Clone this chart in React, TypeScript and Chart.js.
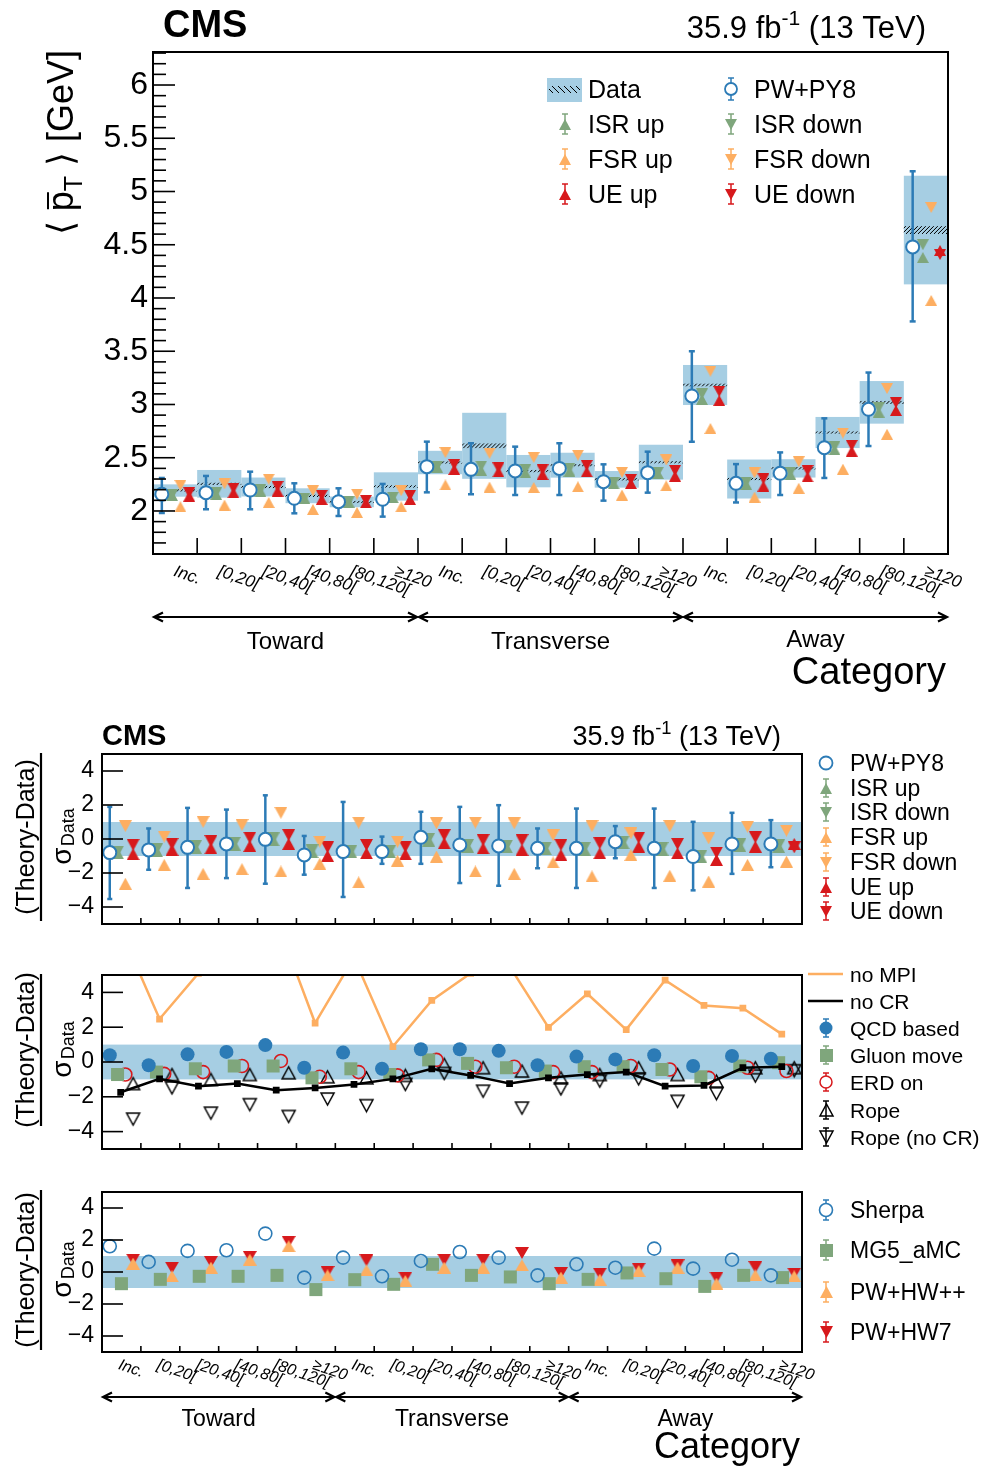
import React, { useEffect, useRef } from 'react';
import { Chart, registerables } from 'chart.js';

Chart.register(...registerables);

const FONT = '"Liberation Sans", Arial, Helvetica, sans-serif';
const BLUE = '#2c7bb6';
const LIGHT = '#a6cee3';
const GREEN = '#7fa67c';
const ORANGE = '#fdae61';
const RED = '#d7191c';

const binLabels = ['Inc.', '[0,20[', '[20,40[', '[40,80[', '[80,120[', '\u2265120'];
const regionLabels = ['Toward', 'Transverse', 'Away'];
const mainYTicks = [2, 2.5, 3, 3.5, 4, 4.5, 5, 5.5, 6];
const ratioYTicks = [-4, -2, 0, 2, 4];

// ---------- top panel: <pT> per category ----------
const dataMean = [2.192, 2.255, 2.225, 2.143, 2.085, 2.23, 2.455, 2.612, 2.374, 2.43, 2.297, 2.458, 3.183, 2.3, 2.4, 2.737, 3.02, 4.638];
const dataSyst = [0.058, 0.13, 0.089, 0.07, 0.05, 0.133, 0.11, 0.31, 0.152, 0.117, 0.078, 0.164, 0.188, 0.183, 0.086, 0.146, 0.2, 0.51];
const dataStat = [0.012, 0.012, 0.012, 0.012, 0.012, 0.012, 0.012, 0.024, 0.012, 0.012, 0.012, 0.012, 0.015, 0.012, 0.012, 0.012, 0.015, 0.037];
const pwpy8 = [2.157, 2.172, 2.197, 2.119, 2.087, 2.11, 2.416, 2.391, 2.376, 2.4, 2.275, 2.36, 3.08, 2.26, 2.354, 2.594, 2.955, 4.48];
const pwpy8Hi = [2.31, 2.329, 2.369, 2.26, 2.213, 2.254, 2.651, 2.636, 2.604, 2.636, 2.438, 2.557, 3.5, 2.44, 2.55, 2.87, 3.3, 5.19];
const pwpy8Lo = [1.981, 2.016, 2.016, 1.978, 1.953, 1.947, 2.175, 2.157, 2.15, 2.15, 2.097, 2.172, 2.65, 2.08, 2.15, 2.31, 2.61, 3.78];
const isrUp = [2.146, 2.155, 2.186, 2.117, 2.082, 2.124, 2.412, 2.38, 2.358, 2.374, 2.255, 2.352, 3.047, 2.249, 2.343, 2.577, 2.928, 4.38];
const isrDown = [2.152, 2.171, 2.199, 2.12, 2.088, 2.13, 2.418, 2.421, 2.39, 2.402, 2.264, 2.364, 3.1, 2.27, 2.364, 2.606, 2.969, 4.5];
const fsrUp = [2.04, 2.055, 2.08, 2.014, 1.986, 2.039, 2.244, 2.224, 2.221, 2.227, 2.15, 2.236, 2.775, 2.13, 2.213, 2.393, 2.72, 3.977];
const fsrDown = [2.241, 2.255, 2.299, 2.19, 2.158, 2.19, 2.549, 2.542, 2.502, 2.524, 2.362, 2.479, 3.313, 2.358, 2.463, 2.732, 3.15, 4.85];
const ueUp = [2.139, 2.171, 2.186, 2.108, 2.077, 2.108, 2.39, 2.368, 2.343, 2.368, 2.258, 2.327, 3.038, 2.233, 2.32, 2.562, 2.944, 4.446];
const ueDown = [2.171, 2.214, 2.23, 2.146, 2.099, 2.146, 2.437, 2.405, 2.387, 2.427, 2.296, 2.38, 3.122, 2.302, 2.38, 2.615, 3.016, 4.408];

// ---------- ratio panel 1 ----------
const rPw = [-0.8, -0.64, -0.49, -0.29, -0.02, -0.94, -0.74, -0.74, 0.1, -0.35, -0.41, -0.55, -0.55, -0.16, -0.55, -1.03, -0.29, -0.29];
const rPwHi = [1.89, 0.62, 1.83, 1.73, 2.57, 0.18, 2.18, 0.14, 1.6, 1.89, 1.99, 0.62, 1.79, 0.76, 1.79, 1.01, 1.54, 1.11];
const rPwLo = [-3.53, -1.81, -2.88, -2.3, -2.63, -2.1, -3.41, -1.46, -1.46, -2.59, -2.75, -1.72, -2.88, -1.13, -2.88, -3.02, -2.05, -1.66];
const rIsrUp = [-0.84, -0.71, -0.52, -0.33, -0.07, -0.77, -0.79, -0.79, -0.09, -0.45, -0.49, -0.6, -0.63, -0.25, -0.63, -1.08, -0.41, -0.47];
const rIsrDown = [-0.74, -0.61, -0.42, -0.23, 0.03, -0.67, -0.69, -0.69, 0.01, -0.35, -0.39, -0.5, -0.53, -0.15, -0.53, -0.98, -0.31, -0.37];
const rFsrUp = [-2.63, -1.52, -2.05, -1.77, -1.91, -1.46, -2.55, -1.27, -1.03, -1.91, -2.05, -1.38, -2.2, -0.94, -2.16, -2.5, -1.52, -1.33];
const rFsrDown = [0.76, 0.14, 1.0, 0.82, 1.54, -0.16, 0.96, -0.16, 0.92, 0.96, 0.92, 0.23, 0.76, 0.33, 0.76, 0.04, 0.72, 0.49];
const rUeUp = [-0.89, -0.64, -0.55, -0.41, -0.29, -0.99, -0.84, -0.9, -0.25, -0.55, -0.64, -0.94, -0.84, -0.45, -0.84, -1.23, -0.45, -0.29];
const rUeDown = [-0.34, -0.29, -0.12, 0.08, 0.23, -0.49, -0.35, -0.45, 0.23, -0.06, -0.06, -0.35, -0.25, 0.08, -0.29, -0.8, 0.1, -0.49];

// ---------- ratio panel 2 ----------
const noMPI = [7.6, 2.47, 5.1, 7.5, 8.2, 2.24, 6.0, 0.89, 3.54, 5.1, 5.5, 1.99, 3.92, 1.86, 4.7, 3.25, 3.09, 1.6];
const noCR = [-1.74, -0.97, -1.39, -1.24, -1.62, -1.49, -1.29, -0.97, -0.39, -0.77, -1.24, -0.91, -0.72, -0.58, -1.39, -1.35, -0.33, -0.27];
const qcdBased = [0.39, -0.19, 0.44, 0.58, 0.97, -0.33, 0.54, -0.39, 0.73, 0.73, 0.64, -0.19, 0.31, 0.15, 0.39, -0.23, 0.35, 0.19];
const gluonMove = [-0.72, -0.58, -0.39, -0.23, -0.23, -0.91, -0.39, -0.72, 0.12, -0.08, -0.33, -0.52, -0.27, -0.27, -0.43, -0.85, -0.23, -0.04];
const erdOn = [-0.72, -0.68, -0.58, -0.23, 0.06, -0.85, -0.58, -0.77, 0.12, -0.27, -0.27, -0.58, -0.58, -0.23, -0.43, -0.91, -0.33, -0.52];
const rope = [-1.24, -0.72, -1.0, -0.72, -0.62, -0.85, -0.91, -0.77, -0.14, -0.33, -0.52, -0.91, -0.72, -0.33, -0.72, -1.1, -0.33, -0.33];
const ropeNoCR = [-3.28, -1.49, -2.94, -2.45, -3.13, -2.13, -2.51, -1.29, -0.66, -1.68, -2.65, -1.55, -1.1, -0.97, -2.26, -1.82, -0.81, -0.5];

// ---------- ratio panel 3 ----------
const sherpa = [1.61, 0.63, 1.32, 1.36, 2.4, -0.35, 0.9, -0.27, 0.69, 1.25, 0.9, -0.21, 0.48, 0.27, 1.46, 0.21, 0.77, -0.21];
const mg5amc = [-0.73, -0.46, -0.27, -0.27, -0.21, -1.1, -0.48, -0.77, 0.48, -0.21, -0.31, -0.73, -0.46, -0.06, -0.42, -0.9, -0.21, -0.35];
const pwHwpp = [0.52, -0.27, 0.27, 0.77, 1.61, -0.21, 0.1, -0.56, 0.27, 0.27, 0.42, -0.35, -0.48, 0.06, 0.27, -0.73, -0.21, -0.27];
const pwHw7 = [0.77, 0.27, 0.63, 0.94, 1.88, 0.0, 0.73, -0.35, 0.77, 0.77, 1.19, -0.06, -0.1, 0.21, 0.42, -0.35, 0.31, -0.1];

const N = 18;
const pts = (vals: number[], off: number) => vals.map((v, i) => ({ x: i + off, y: v }));

function makeTri(up: boolean, color: string, w: number, h: number, open = false, lw = 1.5) {
  const pad = open ? 2 : 0;
  const c = document.createElement('canvas');
  c.width = w + 2 * pad;
  c.height = h + 2 * pad;
  const g = c.getContext('2d') as CanvasRenderingContext2D;
  g.beginPath();
  if (up) {
    g.moveTo(pad, pad + h); g.lineTo(pad + w, pad + h); g.lineTo(pad + w / 2, pad);
  } else {
    g.moveTo(pad, pad); g.lineTo(pad + w, pad); g.lineTo(pad + w / 2, pad + h);
  }
  g.closePath();
  if (open) { g.lineWidth = lw; g.strokeStyle = color; g.stroke(); }
  else { g.fillStyle = color; g.fill(); }
  return c;
}

function setFont(ctx: CanvasRenderingContext2D, size: number, weight = '', style = '') {
  ctx.font = `${style} ${weight} ${size}px ${FONT}`.replace(/\s+/g, ' ').trim();
}
function line(ctx: CanvasRenderingContext2D, x0: number, y0: number, x1: number, y1: number) {
  ctx.beginPath(); ctx.moveTo(x0, y0); ctx.lineTo(x1, y1); ctx.stroke();
}
function errBar(ctx: CanvasRenderingContext2D, x: number, yHi: number, yLo: number, color: string, lw: number, cap: number) {
  ctx.strokeStyle = color; ctx.lineWidth = lw;
  line(ctx, x, yHi, x, yLo);
  line(ctx, x - cap / 2, yHi, x + cap / 2, yHi);
  line(ctx, x - cap / 2, yLo, x + cap / 2, yLo);
}
function hatch(ctx: CanvasRenderingContext2D, x0: number, x1: number, yT: number, yB: number, spacing = 4, back = false) {
  ctx.save();
  ctx.beginPath(); ctx.rect(x0, yT, x1 - x0, yB - yT); ctx.clip();
  ctx.strokeStyle = '#000'; ctx.lineWidth = 1;
  const h = yB - yT;
  ctx.beginPath();
  for (let x = x0 - h - 2; x < x1 + h + 2; x += spacing) {
    if (back) { ctx.moveTo(x, yT); ctx.lineTo(x + h, yB); }
    else { ctx.moveTo(x, yB); ctx.lineTo(x + h, yT); }
  }
  ctx.stroke();
  ctx.restore();
}
function arrowHead(ctx: CanvasRenderingContext2D, x: number, y: number, dir: number) {
  ctx.beginPath();
  ctx.moveTo(x - dir * 9, y - 4.5); ctx.lineTo(x, y); ctx.lineTo(x - dir * 9, y + 4.5);
  ctx.stroke();
}
function dArrow(ctx: CanvasRenderingContext2D, x0: number, x1: number, y: number) {
  ctx.strokeStyle = '#000'; ctx.lineWidth = 2.2;
  line(ctx, x0 + 1, y, x1 - 1, y);
  arrowHead(ctx, x0 + 1, y, -1);
  arrowHead(ctx, x1 - 1, y, 1);
}
function lumi(ctx: CanvasRenderingContext2D, xR: number, yB: number, size: number) {
  const a = '35.9 fb', s = '-1', b = ' (13 TeV)';
  setFont(ctx, size); const wa = ctx.measureText(a).width; const wb = ctx.measureText(b).width;
  setFont(ctx, size * 0.68); const ws = ctx.measureText(s).width;
  let x = xR - wa - ws - wb;
  ctx.fillStyle = '#000'; ctx.textAlign = 'left'; ctx.textBaseline = 'alphabetic';
  setFont(ctx, size); ctx.fillText(a, x, yB); x += wa;
  setFont(ctx, size * 0.68); ctx.fillText(s, x, yB - size * 0.42); x += ws;
  setFont(ctx, size); ctx.fillText(b, x, yB);
}
function xBinLabels(ctx: CanvasRenderingContext2D, xs: any, y: number, size: number, dx: number) {
  ctx.fillStyle = '#000';
  for (let i = 0; i < N; i++) {
    const px = xs.getPixelForValue(i + 0.5) + dx;
    ctx.save();
    ctx.translate(px, y);
    ctx.rotate(0.33);
    setFont(ctx, size, '', 'italic');
    ctx.textAlign = 'left'; ctx.textBaseline = 'top';
    ctx.fillText(binLabels[i % 6], 0, 0);
    ctx.restore();
  }
}
function regions(ctx: CanvasRenderingContext2D, xs: any, yArrow: number, yText: number[], size: number, catX: number, catY: number, catSize: number) {
  for (let r = 0; r < 3; r++) {
    const x0 = xs.getPixelForValue(r * 6), x1 = xs.getPixelForValue(r * 6 + 6);
    dArrow(ctx, x0, x1, yArrow);
    setFont(ctx, size); ctx.fillStyle = '#000'; ctx.textAlign = 'center'; ctx.textBaseline = 'alphabetic';
    ctx.fillText(regionLabels[r], (x0 + x1) / 2, yText[r]);
  }
  setFont(ctx, catSize); ctx.textAlign = 'right';
  ctx.fillText('Category', catX, catY);
}
function ratioYTitle(ctx: CanvasRenderingContext2D, cy: number, half: number) {
  ctx.fillStyle = '#000';
  ctx.save(); ctx.translate(34, cy); ctx.rotate(-Math.PI / 2);
  setFont(ctx, 25); ctx.textAlign = 'center'; ctx.textBaseline = 'alphabetic';
  ctx.fillText('(Theory-Data)', 0, 0);
  ctx.restore();
  ctx.strokeStyle = '#000'; ctx.lineWidth = 2.2;
  line(ctx, 41, cy - half, 41, cy + half);
  ctx.save(); ctx.translate(63, cy); ctx.rotate(-Math.PI / 2);
  setFont(ctx, 28); const ws = ctx.measureText('\u03c3').width;
  setFont(ctx, 18); const wd = ctx.measureText('Data').width;
  const st = -(ws + wd) / 2;
  ctx.textAlign = 'left';
  setFont(ctx, 28); ctx.fillText('\u03c3', st, 0);
  setFont(ctx, 18); ctx.fillText('Data', st + ws + 1, 6);
  ctx.restore();
}
function drawImg(ctx: CanvasRenderingContext2D, img: HTMLCanvasElement, x: number, y: number) {
  ctx.drawImage(img, Math.round(x - img.width / 2), Math.round(y - img.height / 2));
}
function circle(ctx: CanvasRenderingContext2D, x: number, y: number, r: number, stroke: string | null, fill: string | null, lw = 2) {
  ctx.beginPath(); ctx.arc(x, y, r, 0, Math.PI * 2);
  if (fill) { ctx.fillStyle = fill; ctx.fill(); }
  if (stroke) { ctx.strokeStyle = stroke; ctx.lineWidth = lw; ctx.stroke(); }
}
function legCaps(ctx: CanvasRenderingContext2D, x: number, y: number, color: string, half = 10) {
  ctx.strokeStyle = color; ctx.lineWidth = 1.5;
  line(ctx, x, y - half, x, y + half);
  line(ctx, x - 3, y - half, x + 3, y - half);
  line(ctx, x - 3, y + half, x + 3, y + half);
}
function legText(ctx: CanvasRenderingContext2D, s: string, x: number, y: number, size: number) {
  setFont(ctx, size); ctx.fillStyle = '#000'; ctx.textAlign = 'left'; ctx.textBaseline = 'alphabetic';
  ctx.fillText(s, x, y + size * 0.36);
}

export default function App() {
  const c1 = useRef<HTMLCanvasElement>(null);
  const c2 = useRef<HTMLCanvasElement>(null);
  const c3 = useRef<HTMLCanvasElement>(null);
  const c4 = useRef<HTMLCanvasElement>(null);

  useEffect(() => {
    const tU = (c: string) => makeTri(true, c, 12, 11);
    const tD = (c: string) => makeTri(false, c, 12, 11);
    const rU = (c: string) => makeTri(true, c, 13, 12);
    const rD = (c: string) => makeTri(false, c, 13, 12);
    const imgs = {
      gU: tU(GREEN), gD: tD(GREEN), oU: tU(ORANGE), oD: tD(ORANGE), rU: tU(RED), rD: tD(RED),
      gU2: rU(GREEN), gD2: rD(GREEN), oU2: rU(ORANGE), oD2: rD(ORANGE), rU2: rU(RED), rD2: rD(RED),
      kU: makeTri(true, '#000', 13, 12, true, 1.5), kD: makeTri(false, '#000', 13, 12, true, 1.5),
      oU3: makeTri(true, ORANGE, 14, 12), rD3: makeTri(false, RED, 14, 12),
      lgU: makeTri(true, GREEN, 12, 11), lgD: makeTri(false, GREEN, 12, 11),
      loU: makeTri(true, ORANGE, 12, 11), loD: makeTri(false, ORANGE, 12, 11),
      lrU: makeTri(true, RED, 12, 11), lrD: makeTri(false, RED, 12, 11),
    };

    const scat = (label: string, vals: number[], off: number, style: any, extra: any = {}) => ({
      label, data: pts(vals, off), pointStyle: style, pointRadius: 6, showLine: false, ...extra,
    });
    const baseOpts = (pad: any, ymin: number, ymax: number) => ({
      animation: false,
      responsive: false,
      maintainAspectRatio: false,
      events: [],
      layout: { padding: pad },
      scales: {
        x: { type: 'linear', min: 0, max: N, display: false },
        y: { type: 'linear', min: ymin, max: ymax, display: false },
      },
      plugins: { legend: { display: false }, tooltip: { enabled: false } },
    });

    // ---------------- main panel ----------------
    const mainPlugin = {
      id: 'mainDeco',
      beforeDatasetsDraw(chart: any) {
        const { ctx, scales: { x, y } } = chart;
        ctx.save();
        for (let i = 0; i < N; i++) {
          const x0 = x.getPixelForValue(i), x1 = x.getPixelForValue(i + 1);
          const yt = y.getPixelForValue(dataMean[i] + dataSyst[i]);
          const yb = y.getPixelForValue(dataMean[i] - dataSyst[i]);
          ctx.fillStyle = LIGHT; ctx.fillRect(x0, yt, x1 - x0, yb - yt);
        }
        for (let i = 0; i < N; i++) {
          const x0 = x.getPixelForValue(i), x1 = x.getPixelForValue(i + 1);
          hatch(ctx, x0, x1, y.getPixelForValue(dataMean[i] + dataStat[i]), y.getPixelForValue(dataMean[i] - dataStat[i]), 4);
        }
        for (let i = 0; i < N; i++) {
          errBar(ctx, x.getPixelForValue(i + 0.2), y.getPixelForValue(pwpy8Hi[i]), y.getPixelForValue(pwpy8Lo[i]), BLUE, 2.5, 6);
        }
        ctx.restore();
      },
      afterDraw(chart: any) {
        const { ctx, chartArea: a, scales: { x, y } } = chart;
        ctx.save();
        ctx.strokeStyle = '#000'; ctx.lineWidth = 2;
        ctx.strokeRect(a.left, a.top, a.right - a.left, a.bottom - a.top);
        ctx.lineWidth = 1.6;
        for (let k = 17; k <= 63; k++) {
          const py = y.getPixelForValue(k / 10);
          line(ctx, a.left, py, a.left + (k % 5 === 0 ? 22 : 13), py);
        }
        for (let i = 0; i <= N; i++) {
          const px = x.getPixelForValue(i);
          line(ctx, px, a.bottom, px, a.bottom - 16);
        }
        setFont(ctx, 32); ctx.fillStyle = '#000'; ctx.textAlign = 'right'; ctx.textBaseline = 'middle';
        mainYTicks.forEach((v) => ctx.fillText(String(v), 148, y.getPixelForValue(v)));
        xBinLabels(ctx, x, 563, 17, 2);
        regions(ctx, x, 617, [649, 649, 647], 24, 946, 684, 38);
        // CMS + lumi
        setFont(ctx, 38, 'bold'); ctx.textAlign = 'left'; ctx.textBaseline = 'alphabetic'; ctx.fillStyle = '#000';
        ctx.fillText('CMS', 163, 37);
        lumi(ctx, 926, 38, 31);
        // y title
        ctx.save();
        ctx.translate(73, 50); ctx.rotate(-Math.PI / 2);
        const parts: [string, number, number][] = [['\u27e8 ', 36, 0], ['p', 36, 0], ['T', 25, 9], [' \u27e9 [GeV]', 36, 0]];
        let tw = 0;
        parts.forEach(([s, sz]) => { setFont(ctx, sz); tw += ctx.measureText(s).width; });
        let px = -tw;
        ctx.textAlign = 'left'; ctx.textBaseline = 'alphabetic'; ctx.fillStyle = '#000';
        parts.forEach(([s, sz, dy]) => {
          setFont(ctx, sz);
          const w = ctx.measureText(s).width;
          ctx.fillText(s, px, dy);
          if (s === 'p') { ctx.lineWidth = 2; ctx.strokeStyle = '#000'; line(ctx, px + 2, -25, px + w - 1, -25); }
          px += w;
        });
        ctx.restore();
        // legend
        ctx.fillStyle = LIGHT; ctx.fillRect(547, 78, 35, 24);
        hatch(ctx, 549, 580, 86, 93, 6, true);
        legText(ctx, 'Data', 588, 89, 25);
        const rows = [124, 159, 194];
        const l1 = [[imgs.lgU, GREEN, 'ISR up'], [imgs.loU, ORANGE, 'FSR up'], [imgs.lrU, RED, 'UE up']] as any[];
        const l2 = [[imgs.lgD, GREEN, 'ISR down'], [imgs.loD, ORANGE, 'FSR down'], [imgs.lrD, RED, 'UE down']] as any[];
        l1.forEach(([im, col, t], k) => { legCaps(ctx, 565, rows[k], col); drawImg(ctx, im, 565, rows[k]); legText(ctx, t, 588, rows[k], 25); });
        legCaps(ctx, 731, 89, BLUE, 11);
        circle(ctx, 731, 89, 6, BLUE, '#fff', 1.8);
        legText(ctx, 'PW+PY8', 754, 89, 25);
        l2.forEach(([im, col, t], k) => { legCaps(ctx, 731, rows[k], col); drawImg(ctx, im, 731, rows[k]); legText(ctx, t, 754, rows[k], 25); });
        ctx.restore();
      },
    };

    const ch1 = new Chart(c1.current as HTMLCanvasElement, {
      type: 'scatter',
      data: {
        datasets: [
          scat('PW+PY8', pwpy8, 0.2, 'circle', { pointRadius: 6.5, borderColor: BLUE, backgroundColor: '#fff', borderWidth: 2 }),
          scat('ISR up', isrUp, 0.43, imgs.gU),
          scat('ISR down', isrDown, 0.43, imgs.gD),
          scat('FSR up', fsrUp, 0.62, imgs.oU),
          scat('FSR down', fsrDown, 0.62, imgs.oD),
          scat('UE up', ueUp, 0.82, imgs.rU),
          scat('UE down', ueDown, 0.82, imgs.rD),
        ],
      },
      options: baseOpts({ left: 153, right: 33, top: 52, bottom: 146 }, 1.596, 6.31) as any,
      plugins: [mainPlugin],
    });

    // ---------------- ratio panels common ----------------
    const ratioDeco = (id: string, extraBefore: ((chart: any) => void) | null, extraAfter: (chart: any) => void, titleShift: number, half: number) => ({
      id,
      beforeDatasetsDraw(chart: any) {
        const { ctx, chartArea: a, scales: { y } } = chart;
        ctx.save();
        ctx.fillStyle = LIGHT;
        const y1 = y.getPixelForValue(1), y0 = y.getPixelForValue(-1);
        ctx.fillRect(a.left, y1, a.right - a.left, y0 - y1);
        if (extraBefore) extraBefore(chart);
        ctx.restore();
      },
      afterDraw(chart: any) {
        const { ctx, chartArea: a, scales: { x, y } } = chart;
        ctx.save();
        ctx.strokeStyle = '#000'; ctx.lineWidth = 2;
        ctx.strokeRect(a.left, a.top, a.right - a.left, a.bottom - a.top);
        ctx.lineWidth = 1.6;
        ratioYTicks.forEach((v) => { const py = y.getPixelForValue(v); line(ctx, a.left, py, a.left + 21, py); });
        for (let i = 0; i <= N; i++) { const px = x.getPixelForValue(i); line(ctx, px, a.bottom, px, a.bottom - 6); }
        setFont(ctx, 23); ctx.fillStyle = '#000'; ctx.textAlign = 'right'; ctx.textBaseline = 'middle';
        ratioYTicks.forEach((v) => ctx.fillText(v < 0 ? '\u2212' + Math.abs(v) : String(v), 94, y.getPixelForValue(v)));
        ratioYTitle(ctx, (a.top + a.bottom) / 2 + titleShift, half);
        extraAfter(chart);
        ctx.restore();
      },
    });

    // ---------------- ratio 1 ----------------
    const r1 = ratioDeco('r1', (chart) => {
      const { ctx, scales: { x, y } } = chart;
      for (let i = 0; i < N; i++) errBar(ctx, x.getPixelForValue(i + 0.2), y.getPixelForValue(rPwHi[i]), y.getPixelForValue(rPwLo[i]), BLUE, 2.5, 5);
    }, (chart) => {
      const { ctx } = chart;
      setFont(ctx, 29, 'bold'); ctx.fillStyle = '#000'; ctx.textAlign = 'left'; ctx.textBaseline = 'alphabetic';
      ctx.fillText('CMS', 102, 45);
      lumi(ctx, 781, 45, 27);
      const rows = [63, 88, 112, 137, 162, 187, 211];
      circle(ctx, 826, rows[0], 6.5, BLUE, '#fff', 1.8);
      const items = [[imgs.lgU, GREEN], [imgs.lgD, GREEN], [imgs.loU, ORANGE], [imgs.loD, ORANGE], [imgs.lrU, RED], [imgs.lrD, RED]] as any[];
      items.forEach(([im, col], k) => { legCaps(ctx, 826, rows[k + 1], col, 9); drawImg(ctx, im, 826, rows[k + 1]); });
      ['PW+PY8', 'ISR up', 'ISR down', 'FSR up', 'FSR down', 'UE up', 'UE down'].forEach((t, k) => legText(ctx, t, 850, rows[k], 23));
    }, -2, 84);

    const ch2 = new Chart(c2.current as HTMLCanvasElement, {
      type: 'scatter',
      data: {
        datasets: [
          scat('PW+PY8', rPw, 0.2, 'circle', { pointRadius: 6.5, borderColor: BLUE, backgroundColor: '#fff', borderWidth: 2 }),
          scat('ISR up', rIsrUp, 0.4, imgs.gU2),
          scat('ISR down', rIsrDown, 0.4, imgs.gD2),
          scat('FSR up', rFsrUp, 0.6, imgs.oU2),
          scat('FSR down', rFsrDown, 0.6, imgs.oD2),
          scat('UE up', rUeUp, 0.8, imgs.rU2),
          scat('UE down', rUeDown, 0.8, imgs.rD2),
        ],
      },
      options: baseOpts({ left: 102, right: 179, top: 54, bottom: 16 }, -5, 5) as any,
      plugins: [r1],
    });

    // ---------------- ratio 2 ----------------
    const r2 = ratioDeco('r2', null, (chart) => {
      const { ctx } = chart;
      const rows = [34, 61, 88, 115, 142, 170, 197];
      ctx.lineWidth = 2.5;
      ctx.strokeStyle = ORANGE; line(ctx, 808, rows[0], 843, rows[0]);
      ctx.strokeStyle = '#000'; line(ctx, 808, rows[1], 843, rows[1]);
      legCaps(ctx, 826, rows[2], BLUE, 9); circle(ctx, 826, rows[2], 6.5, null, BLUE);
      legCaps(ctx, 826, rows[3], GREEN, 9); ctx.fillStyle = GREEN; ctx.fillRect(820, rows[3] - 6, 13, 13);
      legCaps(ctx, 826, rows[4], RED, 9); circle(ctx, 826, rows[4], 6, RED, '#fff', 1.5);
      legCaps(ctx, 826, rows[5], '#000', 9); drawImg(ctx, imgs.kU, 826, rows[5]);
      legCaps(ctx, 826, rows[6], '#000', 9); drawImg(ctx, imgs.kD, 826, rows[6]);
      ['no MPI', 'no CR', 'QCD based', 'Gluon move', 'ERD on', 'Rope', 'Rope (no CR)'].forEach((t, k) => legText(ctx, t, 850, rows[k], 21));
    }, -12, 76);

    const ch3 = new Chart(c3.current as HTMLCanvasElement, {
      type: 'scatter',
      data: {
        datasets: [
          { label: 'no MPI', data: pts(noMPI, 0.48), showLine: true, borderColor: ORANGE, backgroundColor: ORANGE, borderWidth: 2.5, pointStyle: 'rect', pointRadius: 3, clip: 0 },
          { label: 'no CR', data: pts(noCR, 0.48), showLine: true, borderColor: '#000', backgroundColor: '#000', borderWidth: 2.5, pointStyle: 'rect', pointRadius: 3, clip: 0 },
          scat('QCD based', qcdBased, 0.2, 'circle', { pointRadius: 7, borderColor: BLUE, backgroundColor: BLUE, borderWidth: 0 }),
          scat('Gluon move', gluonMove, 0.4, 'rect', { pointRadius: 9.2, borderColor: GREEN, backgroundColor: GREEN, borderWidth: 0 }),
          scat('ERD on', erdOn, 0.6, 'circle', { pointRadius: 6.5, borderColor: RED, backgroundColor: 'rgba(0,0,0,0)', borderWidth: 1.6 }),
          scat('Rope', rope, 0.8, imgs.kU),
          scat('Rope (no CR)', ropeNoCR, 0.8, imgs.kD),
        ],
      },
      options: baseOpts({ left: 102, right: 179, top: 35, bottom: 11 }, -5, 5) as any,
      plugins: [r2],
    });

    // ---------------- ratio 3 ----------------
    const r3 = ratioDeco('r3', null, (chart) => {
      const { ctx, scales: { x } } = chart;
      xBinLabels(ctx, x, 197, 16, 0);
      regions(ctx, x, 237, [266, 266, 266], 23, 800, 298, 36);
      const rows = [50, 90, 132, 172];
      legCaps(ctx, 826, rows[0], BLUE, 10); circle(ctx, 826, rows[0], 6.5, BLUE, '#fff', 1.6);
      legCaps(ctx, 826, rows[1], GREEN, 10); ctx.fillStyle = GREEN; ctx.fillRect(820, rows[1] - 6, 13, 13);
      legCaps(ctx, 826, rows[2], ORANGE, 10); drawImg(ctx, imgs.oU2, 826, rows[2]);
      legCaps(ctx, 826, rows[3], RED, 10); drawImg(ctx, imgs.rD2, 826, rows[3]);
      ['Sherpa', 'MG5_aMC', 'PW+HW++', 'PW+HW7'].forEach((t, k) => legText(ctx, t, 850, rows[k], 23));
    }, -2, 80);

    const ch4 = new Chart(c4.current as HTMLCanvasElement, {
      type: 'scatter',
      data: {
        datasets: [
          scat('Sherpa', sherpa, 0.2, 'circle', { pointRadius: 6.5, borderColor: BLUE, backgroundColor: 'rgba(0,0,0,0)', borderWidth: 1.6 }),
          scat('MG5_aMC', mg5amc, 0.5, 'rect', { pointRadius: 9.2, borderColor: GREEN, backgroundColor: GREEN, borderWidth: 0 }),
          scat('PW+HW++', pwHwpp, 0.8, imgs.oU3),
          scat('PW+HW7', pwHw7, 0.8, imgs.rD3),
        ],
      },
      options: baseOpts({ left: 102, right: 179, top: 32, bottom: 118 }, -5, 5) as any,
      plugins: [r3],
    });

    return () => { ch1.destroy(); ch2.destroy(); ch3.destroy(); ch4.destroy(); };
  }, []);

  const cs = (top: number, h: number) => ({ position: 'absolute' as const, left: 0, top, width: 981, height: h });
  return (
    <div style={{ position: 'absolute', left: 0, top: 0, width: 981, height: 1470, background: '#fff' }}>
      <canvas ref={c1} width={981} height={700} style={cs(0, 700)} />
      <canvas ref={c2} width={981} height={240} style={cs(700, 240)} />
      <canvas ref={c3} width={981} height={220} style={cs(940, 220)} />
      <canvas ref={c4} width={981} height={310} style={cs(1160, 310)} />
    </div>
  );
}
